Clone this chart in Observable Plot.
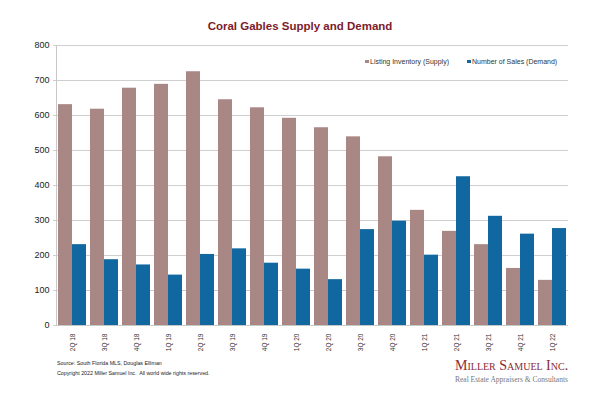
<!DOCTYPE html>
<html>
<head>
<meta charset="utf-8">
<script src="https://cdn.jsdelivr.net/npm/d3@7"></script>
<script src="https://cdn.jsdelivr.net/npm/@observablehq/plot@0.6"></script>
<style>
  html, body { margin: 0; padding: 0; background: #fff; }
  #wrap { position: relative; width: 600px; height: 397px; overflow: hidden; font-family: "Liberation Sans", Arial, sans-serif; }
  #chart { position: absolute; left: 0; top: 0; }
  .title { position: absolute; left: 0; width: 600px; top: 20px; text-align: center; font-weight: bold; font-size: 11.5px; color: #7b1c2b; }
  .legend { position: absolute; top: 58px; font-size: 7px; color: #333; white-space: nowrap; }
  .legend span.sw { display: inline-block; width: 3.5px; height: 3.5px; margin-right: 1.5px; vertical-align: 1px; }
  .foot { position: absolute; left: 57px; font-size: 5.3px; color: #222; white-space: nowrap; }
  .logo1 { position: absolute; left: 455px; top: 358px; font-family: "Liberation Serif", serif; font-variant: small-caps; font-size: 14px; color: #8a2a35; white-space: nowrap; }
  .logo2 { position: absolute; left: 455px; top: 375px; font-family: "Liberation Serif", serif; font-size: 7.5px; color: #777; white-space: nowrap; }
</style>
</head>
<body>
<div id="wrap">
  <div id="chart"></div>
  <div class="title">Coral Gables Supply and Demand</div>
  <div class="legend" style="left:365px"><span class="sw" style="background:#a88785"></span>Listing Inventory (Supply)</div>
  <div class="legend" style="left:467px"><span class="sw" style="background:#11679f"></span>Number of Sales (Demand)</div>
  <div class="foot" style="top:360px">Source: South Florida MLS, Douglas Elliman</div>
  <div class="foot" style="top:370px">Copyright 2022 Miller Samuel Inc.&nbsp; All world wide rights reserved.</div>
  <div class="logo1">Miller Samuel Inc.</div>
  <div class="logo2">Real Estate Appraisers &amp; Consultants</div>
</div>
<script>
const quarters = ["2Q 18","3Q 18","4Q 18","1Q 19","2Q 19","3Q 19","4Q 19","1Q 20","2Q 20","3Q 20","4Q 20","1Q 21","2Q 21","3Q 21","4Q 21","1Q 22"];
const supply = [631, 618, 678, 689, 725, 645, 622, 592, 565, 539, 482, 329, 269, 231, 163, 129];
const demand = [231, 188, 173, 144, 203, 219, 178, 161, 131, 274, 298, 201, 425, 312, 261, 277];
const yTicks = [0, 100, 200, 300, 400, 500, 600, 700, 800];

const supplyData = quarters.map((q, i) => ({quarter: q, value: supply[i]}));
const demandData = quarters.map((q, i) => ({quarter: q, value: demand[i]}));

const plot = Plot.plot({
  width: 600,
  height: 397,
  marginLeft: 56,
  marginRight: 32,
  marginTop: 45,
  marginBottom: 72,
  style: {fontFamily: "Liberation Sans, Arial, sans-serif", background: "transparent"},
  x: {domain: quarters, paddingInner: 0.125, paddingOuter: 0.0625, round: false, label: null},
  y: {domain: [0, 800], label: null},
  marks: [
    Plot.gridY(yTicks, {stroke: "#cfcfcf", strokeOpacity: 1}),
    Plot.axisY(yTicks, {tickSize: 3, tickPadding: 4, fontSize: 9, stroke: "#cfcfcf", fill: "#222", tickFormat: d => d}),
    Plot.barY(supplyData, {x: "quarter", y: "value", fill: "#a88785", insetRight: 14}),
    Plot.barY(demandData, {x: "quarter", y: "value", fill: "#11679f", insetLeft: 14}),
    Plot.ruleY([0], {stroke: "#c8c8c8"}),
    Plot.frame({anchor: "left", stroke: "#c8c8c8"}),
    Plot.axisX({tickRotate: -90, tickSize: 0, tickPadding: 8, fontSize: 6.5, fill: "#333"})
  ]
});
document.getElementById("chart").appendChild(plot);
</script>
</body>
</html>
